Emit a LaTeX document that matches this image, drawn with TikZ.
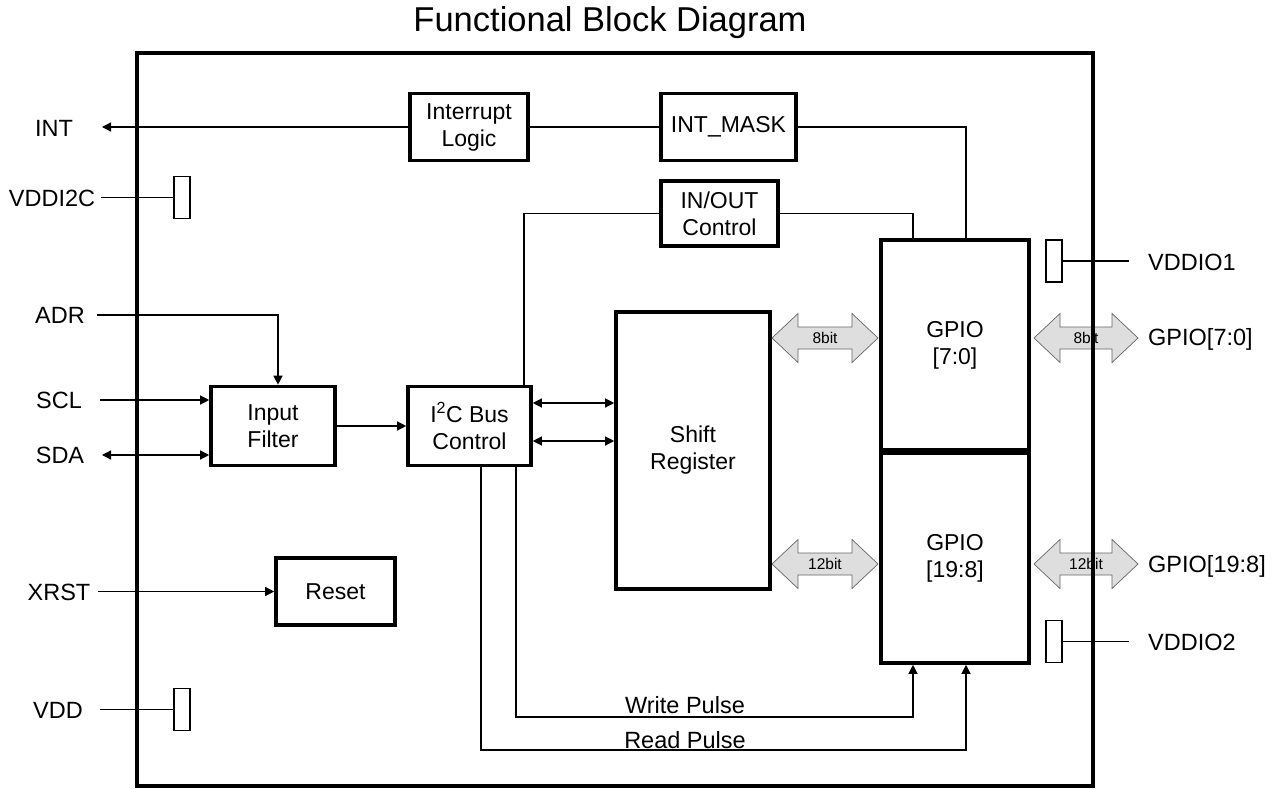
\documentclass[tikz,border=0pt]{standalone}
\usepackage{fontspec}
\setmainfont{Liberation Sans}
\usetikzlibrary{arrows.meta,calc}
\newcommand\busarrow[4]{%
  \filldraw[fill=black!13, draw=black!60, line width=0.7pt]
    (#1,#3) -- ({#1+26},{#3-24.5}) -- ({#1+26},{#3-11}) -- ({#2-26},{#3-11})
    -- ({#2-26},{#3-24.5}) -- (#2,#3) -- ({#2-26},{#3+24.5}) -- ({#2-26},{#3+11})
    -- ({#1+26},{#3+11}) -- ({#1+26},{#3+24.5}) -- cycle;
  \node[font=\fontsize{15.5}{18}\selectfont] at ({(#1+#2)/2},#3) {#4};}
\begin{document}
\begin{tikzpicture}[x=1pt,y=-1pt,
  blk/.style={draw, line width=3.6pt, align=center, inner sep=0pt, font=\fontsize{23}{27}\selectfont},
  ln/.style={line width=1.3pt},
  arr/.style={ln, -{Triangle[length=9pt,width=9pt]}},
  darr/.style={ln, {Triangle[length=9pt,width=9pt]}-{Triangle[length=9pt,width=9pt]}},
  lbl/.style={font=\fontsize{23.5}{27}\selectfont, inner sep=0pt},
  pad/.style={draw, fill=white, line width=1.3pt, inner sep=0pt, minimum width=16pt, minimum height=42pt},
]
\useasboundingbox (0,0) rectangle (1282,789);

% title
\node[font=\fontsize{34.5}{40}\selectfont] (title) at (610,23) {Functional Block Diagram};

% blocks
\node[blk, minimum width=118, minimum height=67] (il) at (469,127) {Interrupt\\Logic};
\node[blk, minimum width=135, minimum height=67] (im) at (728.5,127) {INT\_MASK};
\node[blk, minimum width=117, minimum height=65] (io) at (719.5,213.5) {IN/OUT\\Control};
\node[blk, minimum width=148, minimum height=210] (g1) at (955,345) {GPIO\\{[7:0]}};
\node[blk, minimum width=148, minimum height=210] (g2) at (955,558) {GPIO\\{[19:8]}};
\node[blk, minimum width=154, minimum height=277] (sr) at (693,450.5) {Shift\\Register};
\node[blk, minimum width=123, minimum height=79] (ic) at (469.5,426) {I\textsuperscript{2}C Bus\\Control};
\node[blk, minimum width=124, minimum height=79] (if) at (273,426) {Input\\Filter};
\node[blk, minimum width=119, minimum height=67] (rs) at (335.5,591.5) {Reset};

% pads
\node[pad] (p1) at (182,197.5) {};
\node[pad] (p2) at (182,709.5) {};
\node[pad] (p3) at (1054,261) {};
\node[pad] (p4) at (1054,641.5) {};

% left labels
\node[lbl] (tINT) at (54,128) {INT};
\node[lbl] (tVI) at (52,198) {VDDI2C};
\node[lbl] (tADR) at (60,315) {ADR};
\node[lbl] (tSCL) at (59,400) {SCL};
\node[lbl] (tSDA) at (60,455) {SDA};
\node[lbl] (tXR) at (59,592) {XRST};
\node[lbl] (tVDD) at (58,710) {VDD};
% right labels
\node[lbl, anchor=west] (tV1) at (1148,262) {VDDIO1};
\node[lbl, anchor=west] (tG1) at (1148,339) {GPIO[7:0]};
\node[lbl, anchor=west] (tG2) at (1148,566) {GPIO[19:8]};
\node[lbl, anchor=west] (tV2) at (1148,642) {VDDIO2};
% pulse labels
\node[lbl] (twp) at (685,705) {Write Pulse};
\node[lbl] (trp) at (685,740) {Read Pulse};

% coordinates
\coordinate (cINT) at (102,127);
\coordinate (cVI) at (101,197.5);
\coordinate (cADR) at (97,315);
\coordinate (xF) at (278,0);
\coordinate (cSCL) at (100,400);
\coordinate (cSDA) at (102,455);
\coordinate (cXR) at (98,591.5);
\coordinate (cVDD) at (100,709.5);
\coordinate (cV1) at (1129,261);
\coordinate (cV2) at (1129,641.5);
\coordinate (xa) at (913,0);
\coordinate (xb) at (966,0);
\coordinate (xc) at (524,0);
\coordinate (xw) at (516,0);
\coordinate (xr) at (481,0);
\coordinate (yb1) at (0,403);
\coordinate (yb2) at (0,441);
\coordinate (wp) at (913,717);
\coordinate (rp) at (966,750);

% connectors
\draw[arr] (il.west) -- (cINT);
\draw[ln] (il.east) -- (im.west);
\draw[ln] (im.east) -| (g1.north -| xb);
\draw[ln] (ic.north -| xc) |- (io.west);
\draw[ln] (io.east) -| (g1.north -| xa);
\draw[ln] (cVI) -- (p1.west);
\draw[arr] (cADR) -| (if.north -| xF);
\draw[arr] (cSCL) -- (if.west |- cSCL);
\draw[darr] (cSDA) -- (if.west |- cSDA);
\draw[arr] (if.east) -- (ic.west);
\draw[darr] (ic.east |- yb1) -- (sr.west |- yb1);
\draw[darr] (ic.east |- yb2) -- (sr.west |- yb2);
\draw[arr] (cXR) -- (rs.west);
\draw[ln] (cVDD) -- (p2.west);
\draw[ln] (p3.east) -- (cV1);
\draw[ln] (p4.east) -- (cV2);
\draw[arr] (ic.south -| xw) |- (wp) -- (g2.south -| xa);
\draw[arr] (ic.south -| xr) |- (rp) -- (g2.south -| xb);

% buses
\busarrow{772}{878}{338}{8bit}
\busarrow{1034}{1138}{338}{8bit}
\busarrow{772}{878}{564}{12bit}
\busarrow{1034}{1138}{564}{12bit}

% outer border
\draw[line width=3.6pt] (137,53) rectangle (1093,786);
\end{tikzpicture}
\end{document}
